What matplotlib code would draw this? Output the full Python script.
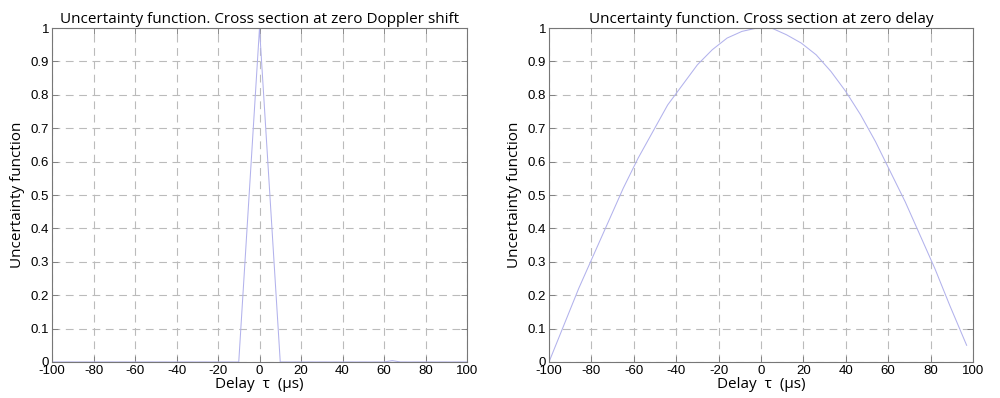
import matplotlib.pyplot as plt

# cross section at zero Doppler shift (delay axis)
delay_x = [-100, -10, 0, 10, 60, 64, 68, 100]
delay_y = [0.0, 0.0, 1.0, 0.0, 0.0, 0.004, 0.0, 0.0]

# cross section at zero delay
dop_x = [-100, -93, -86, -79, -72, -65, -58, -51, -44, -37, -30, -23, -16, -9, -2,
         5, 12, 19, 26, 33, 40, 47, 54, 61, 68, 75, 82, 89, 97]
dop_y = [0.0, 0.11, 0.22, 0.32, 0.42, 0.52, 0.61, 0.69, 0.77, 0.83, 0.89, 0.935, 0.97, 0.99, 1.0,
         1.0, 0.98, 0.955, 0.92, 0.87, 0.81, 0.74, 0.66, 0.57, 0.48, 0.38, 0.28, 0.17, 0.05]

xticks = list(range(-100, 101, 20))
yticks = [i / 10 for i in range(11)]
ytick_labels = ['0', '0.1', '0.2', '0.3', '0.4', '0.5', '0.6', '0.7', '0.8', '0.9', '1']

titles = ['Uncertainty function. Cross section at zero Doppler shift',
          'Uncertainty function. Cross section at zero delay']

line_color = '#b2b2ec'
label_font = ['Open Sans', 'DejaVu Sans']
tick_font = 'Liberation Sans'

fig = plt.figure(figsize=(10, 3.98), dpi=100)
ax1 = fig.add_axes([0.052, 0.0905, 0.415, 0.839])
ax2 = fig.add_axes([0.549, 0.0905, 0.424, 0.839])

for ax, xs, ys, title in [(ax1, delay_x, delay_y, titles[0]), (ax2, dop_x, dop_y, titles[1])]:
    ax.plot(xs, ys, color=line_color, linewidth=0.75)
    ax.set_xlim(-100, 100)
    ax.set_ylim(0, 1)
    ax.set_xticks(xticks)
    ax.set_xticklabels([str(t) for t in xticks], fontfamily=tick_font, fontsize=9.5)
    ax.set_yticks(yticks)
    ax.set_yticklabels(ytick_labels, fontfamily=tick_font, fontsize=9.5)
    ax.tick_params(direction='in', length=4, width=0.6, color='#777777', pad=2,
                   top=True, right=True)
    ax.grid(True, color='#bbbbbb', linestyle=(0, (7, 5)), linewidth=0.8)
    for s in ax.spines.values():
        s.set_color('#777777')
        s.set_linewidth(0.8)
    ax.set_title(title, fontfamily=label_font, fontsize=11, pad=4)
    ax.set_xlabel('Delay  τ  (μs)', fontfamily=label_font, fontsize=11, labelpad=0)
    ax.set_ylabel('Uncertainty function', fontfamily=label_font, fontsize=11, labelpad=4)

fig.savefig('out.png', dpi=100)
